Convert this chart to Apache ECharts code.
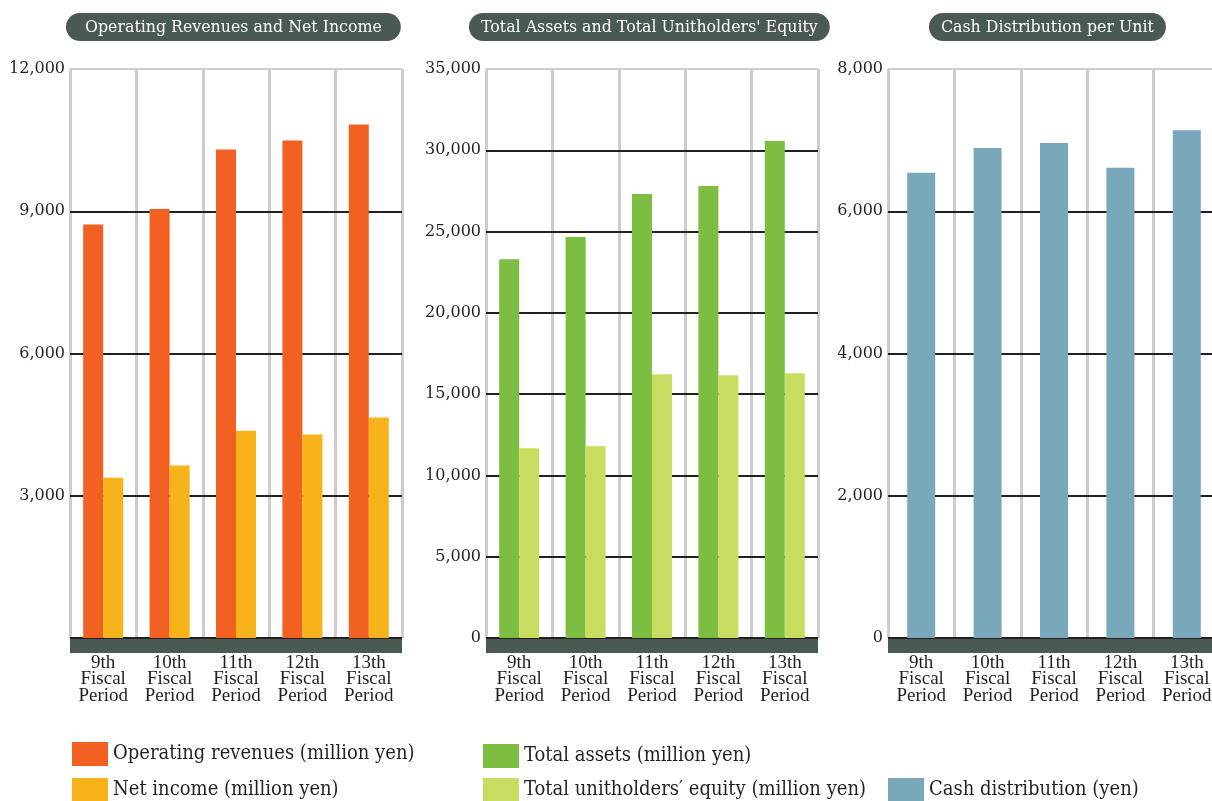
<!DOCTYPE html>
<html>
<head>
<meta charset="utf-8">
<script src="https://cdn.jsdelivr.net/npm/echarts@6/dist/echarts.min.js"></script>
<style>
  html, body { margin: 0; padding: 0; background: #ffffff; }
  #chart { width: 1212px; height: 801px; }
</style>
</head>
<body>
<div id="chart"></div>
<script>
// Fiscal periods shared by all three panels
const periods = ['9th\nFiscal\nPeriod', '10th\nFiscal\nPeriod', '11th\nFiscal\nPeriod', '12th\nFiscal\nPeriod', '13th\nFiscal\nPeriod'];

// Panel 1: operating revenues and net income (million yen)
const operatingRevenues = [8720, 9050, 10300, 10490, 10830];
const netIncome = [3380, 3640, 4370, 4290, 4650];

// Panel 2: total assets and total unitholders' equity (million yen)
const totalAssets = [23300, 24660, 27310, 27800, 30570];
const unitholdersEquity = [11670, 11790, 16230, 16160, 16290];

// Panel 3: cash distribution per unit (yen)
const cashDistribution = [6540, 6890, 6960, 6610, 7140];

// Panel titles and axis ranges
const panelTitles = ['Operating Revenues and Net Income', "Total Assets and Total Unitholders' Equity", 'Cash Distribution per Unit'];
const axisMax = [12000, 35000, 8000];
const axisStep = [3000, 5000, 2000];

// Legend entries
const legendNames = [
  'Operating revenues (million yen)',
  'Net income (million yen)',
  'Total assets (million yen)',
  'Total unitholders\u2032 equity (million yen)',
  'Cash distribution (yen)'
];

const SERIF = '"DejaVu Serif", "Liberation Serif", serif';
const COND = '"DejaVu Serif Condensed", "DejaVu Serif", serif';
const BAND = '#4a5a52';
const DARK = '#231f20';
const GRAY = '#cdcdcd';

const gridLeft = [70, 486, 888];
const gridWidth = 332;

function splitColors(max, step) {
  const n = Math.round(max / step) + 1;
  const arr = [];
  for (let i = 0; i < n - 1; i++) arr.push(DARK);
  arr.push(GRAY);
  return arr;
}

const fmt = v => Number(v).toLocaleString('en-US');

// the third panel runs past the right edge of the canvas
const grids = gridLeft.map(l => ({ left: l, width: gridWidth, top: 69, bottom: 163, outerBoundsMode: 'none' }));

const xAxes = gridLeft.map((_, i) => ({
  type: 'category',
  gridIndex: i,
  data: periods,
  position: 'bottom',
  offset: 7.5,
  axisLine: { show: true, onZero: false, lineStyle: { color: BAND, width: 15, cap: 'butt' } },
  axisTick: { show: false },
  axisLabel: {
    margin: 9,
    fontFamily: '"Liberation Serif", serif',
    fontSize: 19,
    lineHeight: 16.5,
    color: '#231f20',
    interval: 0
  },
  splitLine: { show: true, interval: 0, lineStyle: { color: GRAY, width: 3 } },
  z: 1
}));

const yAxes = gridLeft.map((_, i) => ({
  type: 'value',
  gridIndex: i,
  min: 0,
  max: axisMax[i],
  interval: axisStep[i],
  axisLine: { show: false },
  axisTick: { show: false },
  axisLabel: {
    margin: 5,
    fontFamily: SERIF,
    fontSize: 16,
    color: '#231f20',
    showMinLabel: i !== 0,
    formatter: fmt
  },
  splitLine: { show: true, lineStyle: { color: splitColors(axisMax[i], axisStep[i]), width: 2 } },
  z: 2
}));

const titlePos = [66, 469, 929];
const titlePad = [19, 12, 12];
const titles = panelTitles.map((t, i) => ({
  text: t,
  left: titlePos[i],
  top: 13,
  backgroundColor: BAND,
  borderRadius: 14,
  padding: [7, titlePad[i], 5, titlePad[i]],
  textStyle: { color: '#ffffff', fontFamily: SERIF, fontSize: 15.8, fontWeight: 'normal', lineHeight: 16 }
}));

const legendText = { fontFamily: COND, fontSize: 20, color: '#231f20' };
const legendPos = [[72, 742], [72, 778], [483, 744], [483, 778], [888, 778]];
const legends = legendNames.map((n, i) => ({
  data: [n],
  left: legendPos[i][0],
  top: legendPos[i][1],
  padding: 0,
  itemWidth: 36,
  itemHeight: 24,
  itemGap: 4,
  icon: 'rect',
  selectedMode: false,
  textStyle: legendText
}));

const option = {
  animation: false,
  backgroundColor: '#ffffff',
  title: titles,
  grid: grids,
  xAxis: xAxes,
  yAxis: yAxes,
  legend: legends,
  series: [
    { name: legendNames[0], type: 'bar', xAxisIndex: 0, yAxisIndex: 0, data: operatingRevenues, barWidth: 20, barGap: '0%', itemStyle: { color: '#f26122' }, z: 3 },
    { name: legendNames[1], type: 'bar', xAxisIndex: 0, yAxisIndex: 0, data: netIncome, barWidth: 20, barGap: '0%', itemStyle: { color: '#f8b21a' }, z: 3 },
    { name: legendNames[2], type: 'bar', xAxisIndex: 1, yAxisIndex: 1, data: totalAssets, barWidth: 20, barGap: '0%', itemStyle: { color: '#7cbd42' }, z: 3 },
    { name: legendNames[3], type: 'bar', xAxisIndex: 1, yAxisIndex: 1, data: unitholdersEquity, barWidth: 20, barGap: '0%', itemStyle: { color: '#c8dc60' }, z: 3 },
    { name: legendNames[4], type: 'bar', xAxisIndex: 2, yAxisIndex: 2, data: cashDistribution, barWidth: 28, itemStyle: { color: '#78a8b9' }, z: 3 }
  ]
};

const chart = echarts.init(document.getElementById('chart'), null, { renderer: 'canvas' });
chart.setOption(option);
</script>
</body>
</html>
